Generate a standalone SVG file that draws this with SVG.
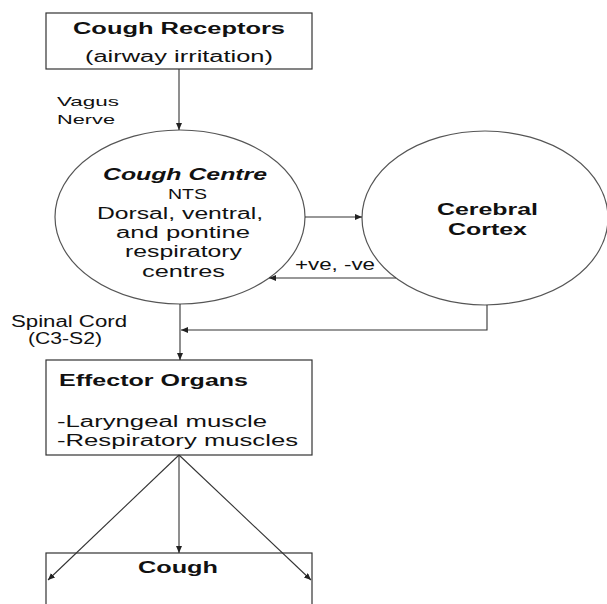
<svg xmlns="http://www.w3.org/2000/svg" width="607" height="604" viewBox="0 0 607 604">
<defs>
<style>
.box{fill:#fff;stroke:#333;stroke-width:1.2}
.oval{fill:#fff;stroke:#555;stroke-width:1.2}
.ln{fill:none;stroke:#333;stroke-width:1.1}
text{font-family:"Liberation Sans",Arial,sans-serif;fill:#111}
.b{font-weight:bold;font-size:16px}
.r{font-size:16px}
.m{font-size:14px}
.s{font-size:13px}
</style>
<marker id="ah" markerUnits="userSpaceOnUse" markerWidth="8" markerHeight="6" refX="7" refY="3" orient="auto">
<path d="M0,0 L7,3 L0,6 Z" fill="#222"/>
</marker>
</defs>
<rect width="607" height="604" fill="#fff"/>
<g id="receptors">
<rect class="box" x="46" y="13" width="266" height="56"/>
<text class="b" x="73" y="34" textLength="212" lengthAdjust="spacingAndGlyphs">Cough Receptors</text>
<text class="r" x="85" y="62" textLength="188" lengthAdjust="spacingAndGlyphs">(airway irritation)</text>
</g>
<g id="cough-centre">
<ellipse class="oval" cx="180" cy="217" rx="125" ry="87"/>
<text class="b" x="103" y="180" textLength="164" lengthAdjust="spacingAndGlyphs" font-style="italic">Cough Centre</text>
<text class="m" x="168" y="199" textLength="39" lengthAdjust="spacingAndGlyphs">NTS</text>
<text class="r" x="97" y="219" textLength="166" lengthAdjust="spacingAndGlyphs">Dorsal, ventral,</text>
<text class="r" x="116" y="238" textLength="134" lengthAdjust="spacingAndGlyphs">and pontine</text>
<text class="r" x="125" y="257" textLength="117" lengthAdjust="spacingAndGlyphs">respiratory</text>
<text class="r" x="142" y="277" textLength="83" lengthAdjust="spacingAndGlyphs">centres</text>
</g>
<g id="cortex">
<ellipse class="oval" cx="485" cy="218" rx="123" ry="87"/>
<text class="b" x="437" y="215" textLength="101" lengthAdjust="spacingAndGlyphs">Cerebral</text>
<text class="b" x="448" y="235" textLength="79" lengthAdjust="spacingAndGlyphs">Cortex</text>
</g>
<g id="effector">
<rect class="box" x="46" y="360" width="266" height="95"/>
<text class="b" x="59" y="386" textLength="189" lengthAdjust="spacingAndGlyphs">Effector Organs</text>
<text class="r" x="57" y="427" textLength="210" lengthAdjust="spacingAndGlyphs">-Laryngeal muscle</text>
<text class="r" x="57" y="446" textLength="241" lengthAdjust="spacingAndGlyphs">-Respiratory muscles</text>
</g>
<g id="cough">
<rect class="box" x="46" y="553" width="266" height="60"/>
<text class="b" x="138" y="573" textLength="80" lengthAdjust="spacingAndGlyphs">Cough</text>
</g>
<g id="connectors">
<path class="ln" d="M179,69 V130" marker-end="url(#ah)"/>
<path class="ln" d="M305,217 H362" marker-end="url(#ah)"/>
<path class="ln" d="M396,278 H269" marker-end="url(#ah)"/>
<path class="ln" d="M180,304 V360" marker-end="url(#ah)"/>
<path class="ln" d="M487,305 V330 H181" marker-end="url(#ah)"/>
<path class="ln" d="M179,455 L48,580" marker-end="url(#ah)"/>
<path class="ln" d="M179,455 V553" marker-end="url(#ah)"/>
<path class="ln" d="M179,455 L311,580" marker-end="url(#ah)"/>
</g>
<g id="labels">
<text class="s" x="57" y="106" textLength="62" lengthAdjust="spacingAndGlyphs">Vagus</text>
<text class="s" x="57" y="124" textLength="58" lengthAdjust="spacingAndGlyphs">Nerve</text>
<text class="r" x="295" y="270" textLength="80" lengthAdjust="spacingAndGlyphs">+ve, -ve</text>
<text class="r" x="11" y="327" textLength="116" lengthAdjust="spacingAndGlyphs">Spinal Cord</text>
<text class="r" x="28" y="344" textLength="74" lengthAdjust="spacingAndGlyphs">(C3-S2)</text>
</g>
</svg>
